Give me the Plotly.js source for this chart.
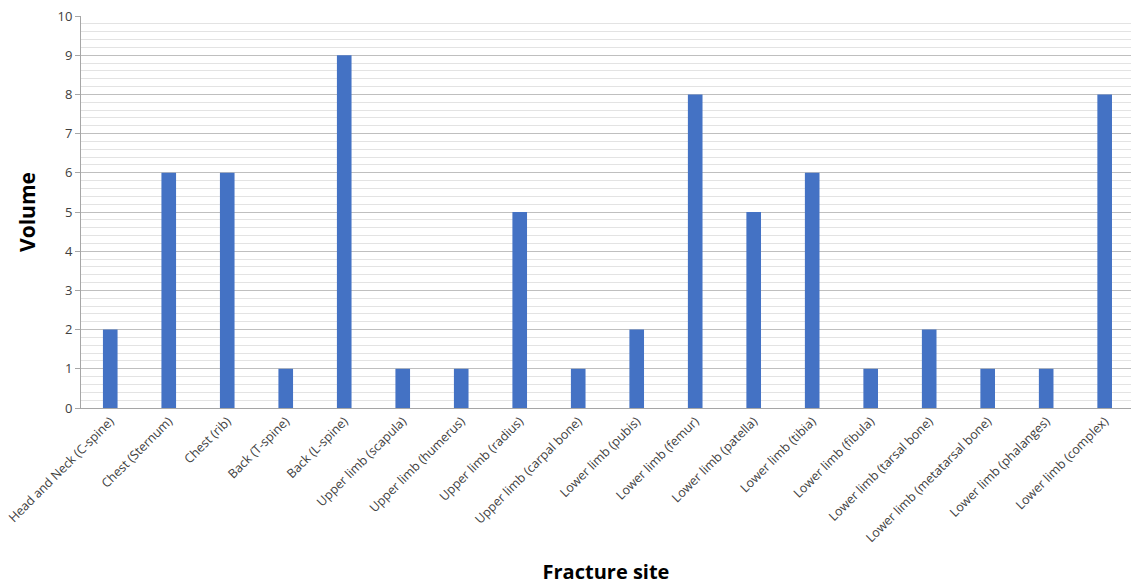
<!DOCTYPE html>
<html>
<head>
<meta charset="utf-8">
<script src="https://cdn.plot.ly/plotly-3.0.1.min.js"></script>
<style>html,body{margin:0;padding:0;background:#fff;}#chart{width:1131px;height:585px;}</style>
</head>
<body>
<div id="chart"></div>
<script>
const categories = [
  "Head and Neck (C-spine)", "Chest (Sternum)", "Chest (rib)", "Back (T-spine)", "Back (L-spine)",
  "Upper limb (scapula)", "Upper limb (humerus)", "Upper limb (radius)", "Upper limb (carpal bone)",
  "Lower limb (pubis)", "Lower limb (femur)", "Lower limb (patella)", "Lower limb (tibia)",
  "Lower limb (fibula)", "Lower limb (tarsal bone)", "Lower limb (metatarsal bone)",
  "Lower limb (phalanges)", "Lower limb (complex)"
];
const volumes = [2, 6, 6, 1, 9, 1, 1, 5, 1, 2, 8, 5, 6, 1, 2, 1, 1, 8];
const yTicks = [0, 1, 2, 3, 4, 5, 6, 7, 8, 9, 10];

const trace = {
  type: "bar",
  x: categories,
  y: volumes,
  width: 0.25,
  marker: {color: "#4472C4"},
  hoverinfo: "x+y"
};

const layout = {
  width: 1131,
  height: 585,
  margin: {l: 81, r: 0, t: 16, b: 177},
  paper_bgcolor: "#ffffff",
  plot_bgcolor: "#ffffff",
  showlegend: false,
  font: {family: "Open Sans, sans-serif", color: "#595959"},
  xaxis: {
    type: "category",
    range: [-0.5, 17.45],
    tickangle: -45,
    tickfont: {size: 12.5, color: "#404040"},
    showgrid: false,
    showline: true,
    linecolor: "#a6a6a6",
    linewidth: 1,
    ticks: "",
    title: {text: "Fracture site", font: {size: 20, color: "#000000", family: "Open Sans, sans-serif", weight: "bold"}, standoff: 31},
    automargin: false
  },
  yaxis: {
    range: [0, 10],
    tickvals: yTicks,
    ticktext: yTicks.map(String),
    tickfont: {size: 13, color: "#404040"},
    showgrid: true,
    gridcolor: "#bfbfbf",
    gridwidth: 1,
    zeroline: false,
    showline: true,
    linecolor: "#a6a6a6",
    linewidth: 1,
    ticks: "outside",
    ticklen: 5,
    tickcolor: "#a6a6a6",
    minor: {dtick: 0.2, showgrid: true, gridcolor: "#e3e3e3", gridwidth: 1, ticks: ""},
    title: {text: "Volume", font: {size: 21, color: "#000000", family: "Open Sans, sans-serif", weight: "bold"}, standoff: 16},
    automargin: false
  }
};

Plotly.newPlot("chart", [trace], layout, {displayModeBar: false, staticPlot: false});
</script>
</body>
</html>
